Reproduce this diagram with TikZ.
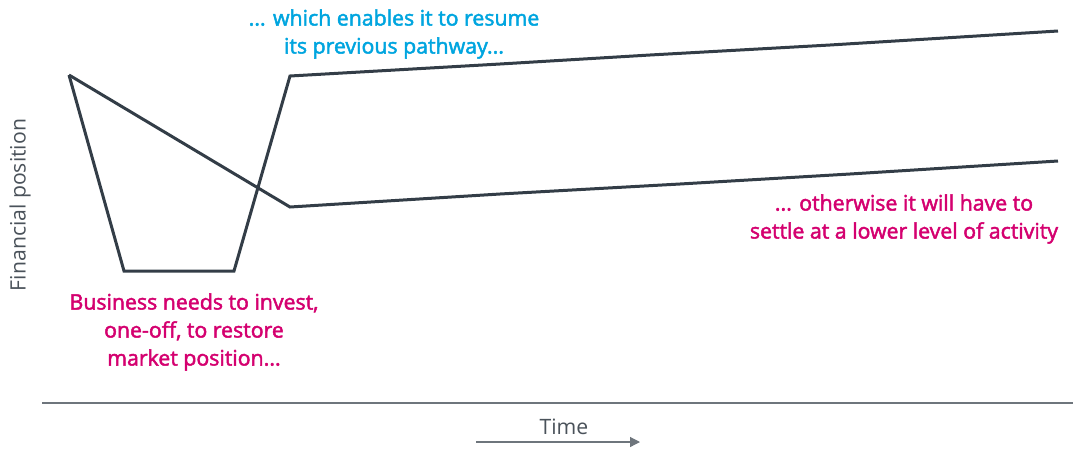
\documentclass[tikz,border=0pt]{standalone}
\usepackage{fontspec}
\setmainfont{Open Sans}
\newfontfamily\notefont{Open Sans}[FakeBold=2.2]
\usepackage{tikz}
\usetikzlibrary{arrows.meta}
\definecolor{pathgray}{HTML}{333D47}
\definecolor{axisgray}{HTML}{6E757C}
\definecolor{textgray}{HTML}{4A525A}
\definecolor{investpink}{HTML}{D4006F}
\definecolor{resumeblue}{HTML}{00A5DF}
\tikzset{
  pathway/.style={draw=pathgray,line width=3pt,line join=miter},
  note/.style={align=center,font=\notefont\fontsize{21.3}{28}\selectfont},
  axislabel/.style={text=textgray,font=\fontsize{21.2}{24}\selectfont}
}
\begin{document}
\begin{tikzpicture}[x=1pt,y=-1pt]
\useasboundingbox (0,0) rectangle (1073,448);
% both pathways start from the same point
\coordinate (start) at (69,75);
\draw[pathway] (start) -- (124,271) -- (234,271) -- (290,76) -- (500,64) -- (650,55) -- (830,45) -- (1058,31);
\draw[pathway] (start) -- (290,207) -- (500,194) -- (680,184) -- (850,174) -- (1058,161);
% axis
\draw[axisgray,line width=1.5pt] (42,403) -- (1073,403);
\node[axislabel] (time) at (564,427) {Time};
\coordinate (tleft) at (476,442);
\coordinate (tright) at (640,442);
\draw[axisgray,line width=1.2pt,-{Triangle[length=10pt,width=10pt]}] (tleft) -- (tright);
\node[axislabel,rotate=90] (fin) at (20,205) {Financial position};
% notes
\node[note,text=resumeblue] (resume) at (394,34) {... which enables it to resume\\its previous pathway...};
\node[note,text=investpink] (invest) at (194,332) {Business needs to invest,\\one-off, to restore\\market position...};
\node[note,text=investpink] (lower) at (904,219) {... otherwise it will have to\\settle at a lower level of activity};
\end{tikzpicture}
\end{document}
